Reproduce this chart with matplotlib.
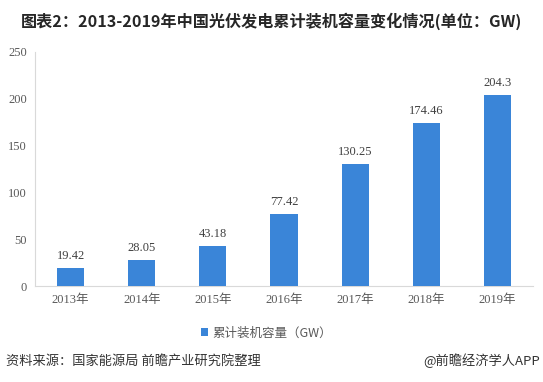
import matplotlib
matplotlib.use("Agg")
import matplotlib.pyplot as plt

years = ["2013年", "2014年", "2015年", "2016年", "2017年", "2018年", "2019年"]
values = [19.42, 28.05, 43.18, 77.42, 130.25, 174.46, 204.3]
value_labels = ["19.42", "28.05", "43.18", "77.42", "130.25", "174.46", "204.3"]
yticks = [0, 50, 100, 150, 200, 250]
series_name = "累计装机容量（GW）"

serif = ["Liberation Serif", "Noto Sans CJK SC"]
sans = ["Noto Sans CJK SC", "DejaVu Sans"]
plt.rcParams["font.family"] = sans

fig = plt.figure(figsize=(5.43, 3.82), dpi=100)
ax = fig.add_axes([0.0645, 0.2513, 0.917, 0.6126])

color = "#3A85D8"
x = range(len(years))
bars = ax.bar(x, values, width=0.38, color=color, label=series_name, zorder=3)
for xi, v, lab in zip(x, values, value_labels):
    ax.text(xi, v + 6, lab, ha="center", va="bottom", fontsize=9,
            color="#404040", family=serif)

ax.set_xlim(-0.5, len(years) - 0.5)
ax.set_ylim(0, 250)
ax.set_yticks(yticks)
ax.set_yticklabels([str(t) for t in yticks], family=serif, fontsize=9, color="#595959")
ax.set_xticks(list(x))
ax.set_xticklabels(years, family=serif, fontsize=9, color="#595959")
ax.tick_params(axis="both", length=0, pad=6)
for s in ["top", "right"]:
    ax.spines[s].set_visible(False)
ax.spines["left"].set_color("#D9D9D9")
ax.spines["bottom"].set_color("#D9D9D9")

fig.text(0.50, 0.945, "图表2：2013-2019年中国光伏发电累计装机容量变化情况(单位：GW)",
         ha="center", va="center", fontsize=11.6, fontweight="bold", color="#262626",
         family=["Noto Sans CJK SC", "DejaVu Sans"])

leg = fig.legend(handles=[bars], labels=[series_name], loc="center",
                 bbox_to_anchor=(0.49, 0.128), frameon=False,
                 handlelength=0.6, handleheight=0.6, handletextpad=0.3,
                 prop={"family": sans, "size": 9})
for t in leg.get_texts():
    t.set_color("#595959")

fig.text(0.011, 0.055, "资料来源：国家能源局 前瞻产业研究院整理", ha="left", va="center",
         fontsize=9.5, color="#333333", family=sans)
fig.text(0.995, 0.055, "@前瞻经济学人APP", ha="right", va="center",
         fontsize=9.5, color="#333333", family=sans)

fig.savefig("out.png", dpi=100)
